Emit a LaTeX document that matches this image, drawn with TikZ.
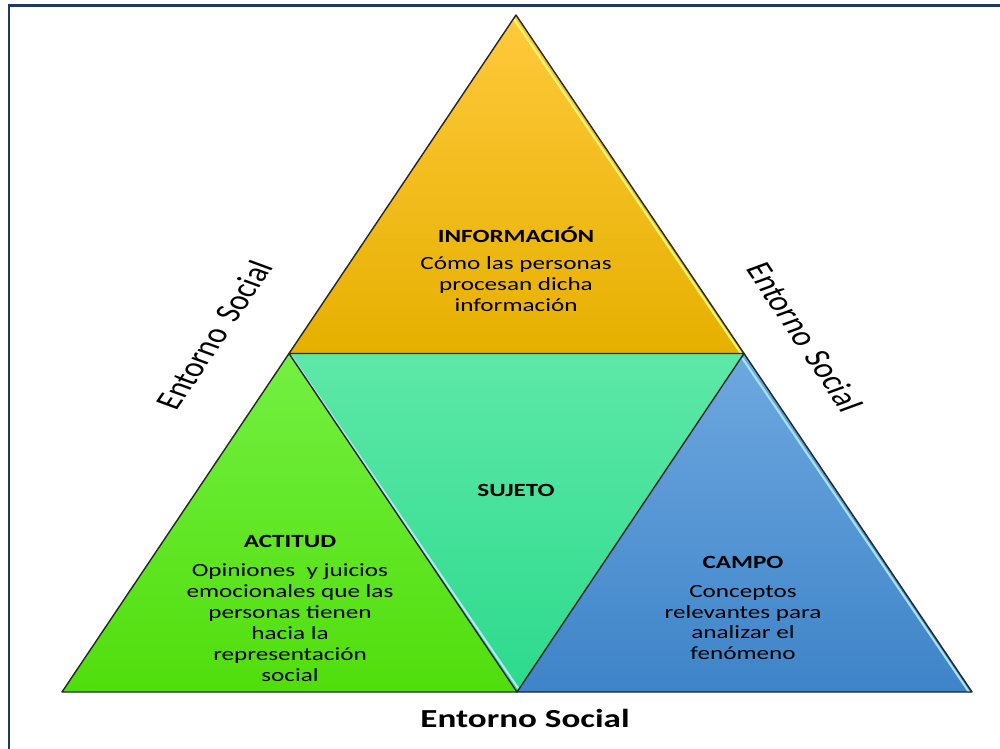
\documentclass[tikz,border=0pt]{standalone}
\usepackage{fontspec}
\setmainfont{Carlito}
\usetikzlibrary{calc}

\definecolor{frameblue}{HTML}{1F3864}
\definecolor{infotop}{HTML}{FFC93C}
\definecolor{infobot}{HTML}{E6B000}
\definecolor{acttop}{HTML}{74F042}
\definecolor{actbot}{HTML}{50DE0C}
\definecolor{sujtop}{HTML}{5EE8A8}
\definecolor{sujbot}{HTML}{2CDA8C}
\definecolor{camtop}{HTML}{6EA8E0}
\definecolor{cambot}{HTML}{3E84C8}

\begin{document}
\begin{tikzpicture}[x=0.02cm,y=-0.02cm,
	wide/.style={xscale=1.35,align=center,inner sep=0pt},
	head/.style={wide,font=\fontsize{10.6}{12}\selectfont\bfseries},
	body/.style={wide,font=\fontsize{10.6}{11.9}\selectfont},
	entorno/.style={wide,font=\fontsize{14.8}{16}\selectfont\bfseries},
	sideentorno/.style={wide,font=\fontsize{15.5}{16}\selectfont},
	edge/.style={draw=black!85,line width=0.8pt,line join=round},
	shine/.style={line width=1.2pt,line cap=round}]
	\useasboundingbox (0,0) rectangle (1000,749);
	
	% Frame
	\draw[frameblue,line width=1.7pt] (9,749) -- (9,6) -- (1000,6);
	
	% Vertices
	\coordinate (apex) at (516,15);
	\coordinate (bl) at (62,692);
	\coordinate (br) at (972,692);
	\coordinate (ml) at ($(apex)!0.5!(bl)$);
	\coordinate (mr) at ($(apex)!0.5!(br)$);
	\coordinate (mb) at ($(bl)!0.5!(br)$);
	
	% Triangles
	\shade[top color=infotop,bottom color=infobot] (apex) -- (mr) -- (ml) -- cycle;
	\shade[top color=acttop,bottom color=actbot] (ml) -- (mb) -- (bl) -- cycle;
	\shade[top color=sujtop,bottom color=sujbot] (ml) -- (mr) -- (mb) -- cycle;
	\shade[top color=camtop,bottom color=cambot] (mr) -- (br) -- (mb) -- cycle;
	
	% Highlights
	\draw[shine,yellow!55] ($(apex)+(-1.5,5)$) -- ($(mr)+(-3,0)$);
	\draw[shine,cyan!35] ($(mr)+(-1.5,5)$) -- ($(br)+(-3,0)$);
	\draw[shine,cyan!30] ($(ml)+(2.5,3)$) -- ($(mb)+(1,-4)$);
	
	% Edges
	\draw[edge] (apex) -- (br) -- (bl) -- cycle;
	\draw[edge] (ml) -- (mr) -- (mb) -- cycle;
	
	% Labels
	\node[head] (info) at (516,235) {INFORMACIÓN};
	\node[body] (infotext) at (516,284) {Cómo las personas\\procesan dicha\\información};
	\node[head] (sujeto) at (516,490) {SUJETO};
	\node[head] (actitud) at (290,541) {ACTITUD};
	\node[body] (actitudtext) at (290,622.5) {Opiniones \ y juicios\\emocionales que las\\personas tienen\\hacia la\\representación\\social};
	\node[head] (campo) at (743,562) {CAMPO};
	\node[body] (campotext) at (743,622.5) {Conceptos\\relevantes para\\analizar el\\fenómeno};
	
	% Entorno
	\node[entorno] (bottom) at (525,718) {Entorno Social};
	\node[sideentorno,rotate=63.6] (left) at (214,335) {Entorno\hspace{0.35em}Social};
	\node[sideentorno,rotate=-63.6] (right) at (805,337) {Entorno\hspace{0.35em}Social};
\end{tikzpicture}
\end{document}
